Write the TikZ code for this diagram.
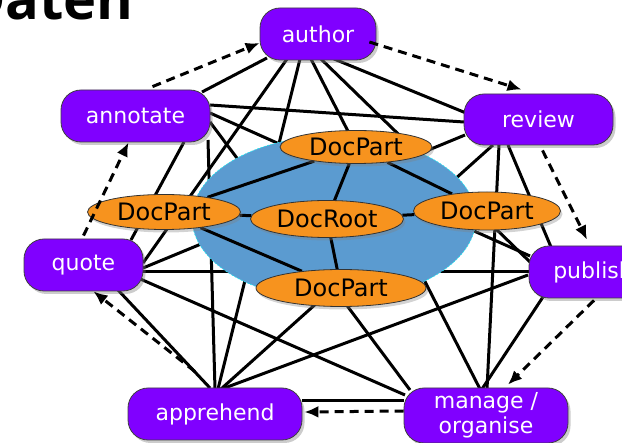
\documentclass[tikz,border=0pt]{standalone}
\usepackage{fontspec}
\setsansfont{DejaVu Sans}
\newfontfamily\headfont{Open Sans}
\usetikzlibrary{arrows.meta,shapes.geometric,shadows}
\definecolor{Violet}{HTML}{8000FF}
\definecolor{Amber}{HTML}{F7931E}
\definecolor{Sky}{HTML}{5B9BD0}
\definecolor{Aqua}{HTML}{22E8F0}
\pgfdeclarelayer{background}
\pgfsetlayers{background,main}

\begin{document}
\begin{tikzpicture}[x=1pt,y=-1pt,
    act/.style={rectangle,rounded corners=20pt,draw=black!75,line width=0.8pt,fill=Violet,
      text=white,font=\sffamily\fontsize{22}{25}\selectfont,align=center,inner sep=0pt,
      minimum height=52pt,drop shadow={shadow xshift=2.5pt,shadow yshift=-3pt,opacity=0.4}},
    part/.style={ellipse,draw=black!80,line width=0.8pt,fill=Amber,inner sep=0pt,
      minimum height=35pt,font=\sffamily\fontsize{24}{26}\selectfont,
      drop shadow={shadow xshift=2pt,shadow yshift=-3pt,opacity=0.35}},
    link/.style={line width=3pt,black},
    flow/.style={-{Latex[length=14pt,width=12pt]},line width=3pt,dash pattern=on 9pt off 6pt}
  ]
    \useasboundingbox (0,0) rectangle (622,443);
    \clip (0,0) rectangle (622,443);
    \node[anchor=base east,inner sep=0pt,font=\headfont\bfseries\fontsize{56}{58}\selectfont] (title) at (134,20) {Daten};

    % activities
    \node[act,minimum width=116pt] (author) at (318,34) {author};
    \node[act,minimum width=149pt] (annotate) at (135.5,116) {annotate};
    \node[act,minimum width=149pt,minimum height=51pt] (review) at (538.5,119.5) {review};
    \node[act,minimum width=119pt] (quote) at (83.5,265) {quote};
    \node[act,minimum width=128pt] (publish) at (593,272) {publish};
    \node[act,minimum width=174pt] (apprehend) at (215,414) {apprehend};
    \node[act,minimum width=164pt,minimum height=55pt] (manage) at (486,415.5) {manage /\\organise};

    % document parts
    \node[part,minimum width=152pt,minimum height=33pt] (ptop) at (356,147) {DocPart};
    \node[part,minimum width=153pt] (pleft) at (164,212) {DocPart};
    \node[part,minimum width=153pt,minimum height=37pt] (root) at (327,219) {DocRoot};
    \node[part,minimum width=147pt,minimum height=38pt] (pright) at (487,211) {DocPart};
    \node[part,minimum width=170pt,minimum height=37pt] (pbottom) at (341,288) {DocPart};

    \begin{pgfonlayer}{background}
      \foreach \a/\ax/\ay/\b/\bx/\by in {
          author/-51/-24/annotate/66.5/24, author/16/-25/review/-72.5/6.5,
          author/-31/-25/quote/59.5/2, author/-18/-25/apprehend/3/25,
          author/-7/-25/manage/-6/26.5, author/3/-25/publish/-63/10,
          annotate/48.5/-26/quote/47.5/25, annotate/72.5/-24/apprehend/0/25,
          annotate/74.5/11/review/-74.5/-2.5, annotate/74.5/3/publish/-63/16,
          annotate/74.5/-6/manage/-76/25.5, review/-73.5/-15.5/quote/59.5/-3,
          review/-45.5/-25.5/apprehend/6/25, review/-39.5/-25.5/manage/1/26.5,
          review/-30.5/-25.5/publish/-42/25, quote/59.5/-7/publish/-63/0,
          quote/54.5/-13/manage/-81/20.5, quote/34.5/-25/apprehend/-5/26,
          publish/-65/-3/apprehend/7/25, publish/-50/-25/manage/-4/26.5,
          apprehend/87/13/manage/-82/14.5}
        \draw[link] ([xshift=\ax pt,yshift=\ay pt]\a.center) -- ([xshift=\bx pt,yshift=\by pt]\b.center);
      \node[ellipse,minimum width=284pt,minimum height=164pt,fill=Sky,draw=Aqua,line width=0.6pt,
        dash pattern=on 2pt off 1.5pt] (doc) at (334,218) {};
      \foreach \a/\b in {root/ptop,root/pleft,root/pright,root/pbottom,pleft/ptop,ptop/pright,pleft/pbottom}
        \draw[link] (\a) -- (\b);
    \end{pgfonlayer}

    % workflow
    \draw[flow] ([xshift=17pt,yshift=3pt]annotate.north) -- ([yshift=-9pt]author.west);
    \draw[flow] ([xshift=-7pt,yshift=-8pt]author.east) -- ([xshift=-17pt,yshift=4pt]review.north);
    \draw[flow] ([xshift=4pt,yshift=-5pt]review.south) -- ([xshift=-6pt,yshift=6pt]publish.north);
    \draw[flow] ([xshift=1pt,yshift=-2pt]publish.south) -- ([xshift=22pt,yshift=3pt]manage.north);
    \draw[flow] ([yshift=4.5pt]manage.west) -- ([xshift=2pt,yshift=2pt]apprehend.east);
    \draw[flow] ([xshift=-20pt,yshift=16pt]apprehend.north) -- ([xshift=10pt]quote.south);
    \draw[flow] ([yshift=3pt]quote.north) -- ([xshift=-7pt]annotate.south);
\end{tikzpicture}
\end{document}
